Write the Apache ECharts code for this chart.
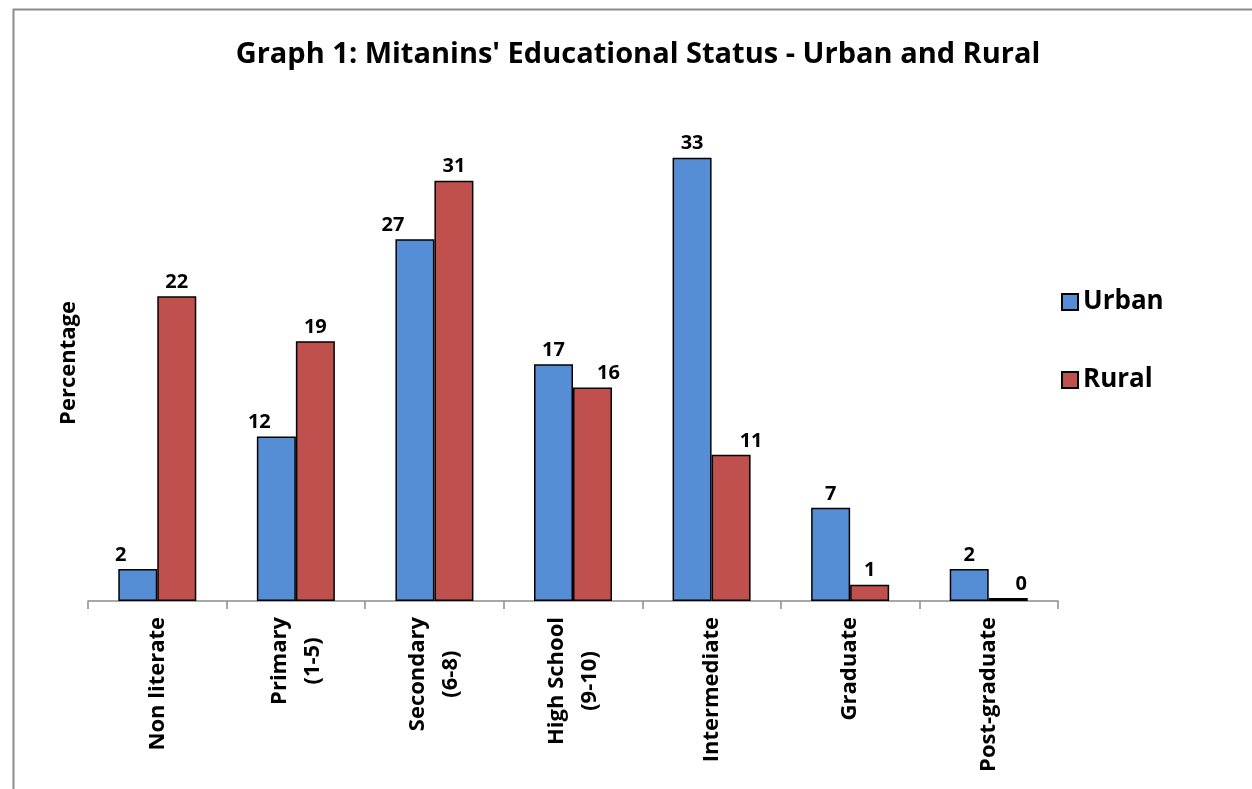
<!DOCTYPE html>
<html>
<head>
<meta charset="utf-8">
<script src="https://cdn.jsdelivr.net/npm/echarts@6/dist/echarts.min.js"></script>
<style>html,body{margin:0;padding:0;background:#fff;}#c{width:1252px;height:789px;}</style>
</head>
<body>
<div id="c"></div>
<script>
const categories = ['Non literate', 'Primary\n(1-5)', 'Secondary\n(6-8)', 'High School\n(9-10)', 'Intermediate', 'Graduate', 'Post-graduate'];
const urban = [2.35, 12.1, 26.6, 17.4, 32.6, 6.85, 2.35];
const rural = [22.4, 19.1, 30.9, 15.7, 10.75, 1.2, 0.22];
const urbanLabelShift = [-17, -17, -22, 0, 0, 0, 0];
const ruralLabelShift = [0, 0, 0, 16, 20, 0, 13];

const FONT = '"Open Sans", sans-serif';
const chart = echarts.init(document.getElementById('c'));

function mk(vals, shifts) {
  return vals.map((v, i) => ({ value: v, label: { offset: [shifts[i], 0] } }));
}
const labelCfg = {
  show: true, position: 'top', distance: 4,
  formatter: p => Math.round(p.value),
  fontFamily: FONT, fontWeight: 'bold', fontSize: 20, color: '#000'
};

chart.setOption({
  animation: false,
  backgroundColor: '#fff',
  graphic: [{
    type: 'rect', left: 11, top: 7, shape: { width: 1400, height: 900 },
    style: { fill: 'none', stroke: '#8c8c8c', lineWidth: 2 }, silent: true
  }],
  title: {
    text: "Graph 1: Mitanins' Educational Status - Urban and Rural",
    left: 633, top: 35, textAlign: 'center',
    textStyle: { fontFamily: FONT, fontWeight: 'bold', fontSize: 29, color: '#000' }
  },
  legend: {
    orient: 'vertical', left: 1056, top: 284, itemGap: 52,
    itemWidth: 16, itemHeight: 16, icon: 'rect',
    textStyle: { fontFamily: FONT, fontWeight: 'bold', fontSize: 26, color: '#000' },
    data: ['Urban', 'Rural']
  },
  grid: { left: 88, right: 194, top: 125, bottom: 188, containLabel: false },
  xAxis: {
    type: 'category', data: categories,
    axisLine: { lineStyle: { color: '#8c8c8c', width: 1.5 } },
    axisTick: { show: true, length: 8, lineStyle: { color: '#8c8c8c', width: 1.5 } },
    axisLabel: {
      rotate: 90, margin: 16, interval: 0, align: 'right', verticalAlign: 'middle',
      formatter: v => v.split('\n').map(s => '{c|' + s + '}').join('\n'),
      rich: { c: { align: 'center', fontFamily: FONT, fontWeight: 'bold', fontSize: 22, color: '#000', lineHeight: 33 } },
      fontFamily: FONT, fontWeight: 'bold', fontSize: 22, color: '#000', lineHeight: 33
    }
  },
  yAxis: {
    type: 'value', min: 0, max: 35,
    name: 'Percentage', nameLocation: 'middle', nameGap: 8, nameRotate: 90,
    nameTextStyle: { fontFamily: FONT, fontWeight: 'bold', fontSize: 22, color: '#000', verticalAlign: 'bottom' },
    axisLine: { show: false }, axisTick: { show: false }, axisLabel: { show: false },
    splitLine: { show: false }
  },
  series: [
    {
      name: 'Urban', type: 'bar', data: mk(urban, urbanLabelShift),
      barWidth: 39, barGap: '0%',
      itemStyle: { color: '#558ED5', borderColor: '#000', borderWidth: 1.5 },
      label: labelCfg
    },
    {
      name: 'Rural', type: 'bar', data: mk(rural, ruralLabelShift),
      barWidth: 39, barGap: '0%',
      itemStyle: { color: '#C0504D', borderColor: '#000', borderWidth: 1.5 },
      label: labelCfg
    }
  ]
});
</script>
</body>
</html>
